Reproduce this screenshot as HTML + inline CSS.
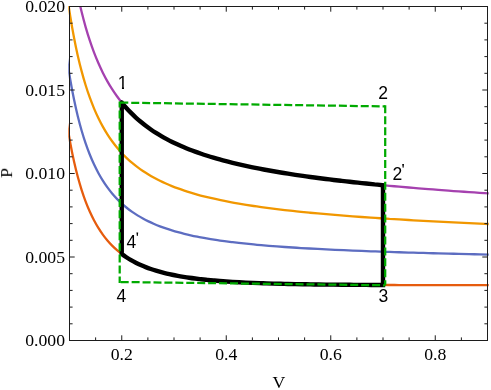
<!DOCTYPE html>
<html><head><meta charset="utf-8"><title>P-V diagram</title>
<style>html,body{margin:0;padding:0;background:#fff}svg{display:block}text{font-kerning:none}</style></head>
<body>
<svg width="491" height="390" viewBox="0 0 491 390">
<defs><clipPath id="c"><rect x="68.30" y="6.00" width="420.40" height="335.00"/></clipPath></defs>
<defs><clipPath id="c1"><path d="M110 70h20v16.9h-20zM121.95 86h2.05v4h-2.05z"/></clipPath></defs>
<rect width="491" height="390" fill="#fff"/>
<g clip-path="url(#c)" fill="none" stroke-width="2.30">
<path d="M66.89 -71.16C68.06 -62.07 69.23 -53.77 70.40 -46.10C71.61 -38.17 72.82 -30.91 74.03 -24.19C75.28 -17.24 76.53 -10.86 77.78 -4.94C79.08 1.17 80.37 6.80 81.66 12.04C82.99 17.44 84.32 22.42 85.65 27.07C87.02 31.86 88.39 36.29 89.76 40.44C91.17 44.70 92.58 48.66 93.99 52.37C95.45 56.18 96.90 59.72 98.35 63.05C99.84 66.47 101.33 69.66 102.82 72.65C104.35 75.73 105.88 78.60 107.41 81.31C108.98 84.09 110.55 86.69 112.13 89.14C113.74 91.66 115.35 94.02 116.96 96.25C118.61 98.53 120.26 100.68 121.91 102.72C123.60 104.80 125.29 106.76 126.98 108.62C128.71 110.52 130.45 112.32 132.18 114.03C133.95 115.77 135.72 117.42 137.49 118.99C139.30 120.59 141.11 122.11 142.92 123.55C144.77 125.03 146.62 126.43 148.48 127.76C150.37 129.13 152.26 130.42 154.15 131.66C156.08 132.92 158.01 134.13 159.94 135.27C161.91 136.45 163.88 137.56 165.86 138.63C167.87 139.72 169.88 140.77 171.89 141.76C173.94 142.78 175.99 143.75 178.04 144.69C180.13 145.64 182.22 146.55 184.32 147.42C186.45 148.31 188.58 149.17 190.71 149.99C192.88 150.82 195.05 151.62 197.22 152.40C199.43 153.18 201.65 153.94 203.86 154.67C206.11 155.41 208.36 156.12 210.61 156.81C212.90 157.51 215.19 158.18 217.48 158.83C219.81 159.50 222.15 160.14 224.48 160.75C226.85 161.38 229.22 161.99 231.59 162.57C234.00 163.17 236.41 163.75 238.83 164.30C241.28 164.87 243.73 165.42 246.18 165.95C248.67 166.49 251.16 167.01 253.65 167.52C256.18 168.04 258.72 168.54 261.25 169.02C263.82 169.51 266.39 169.99 268.96 170.46C271.57 170.93 274.18 171.39 276.79 171.83C279.45 172.29 282.10 172.73 284.75 173.15C287.44 173.59 290.13 174.01 292.82 174.42C295.55 174.84 298.29 175.24 301.02 175.64C303.79 176.04 306.56 176.43 309.33 176.82C312.14 177.20 314.95 177.58 317.77 177.95C320.62 178.32 323.47 178.69 326.32 179.04C329.21 179.41 332.10 179.76 334.99 180.10C337.93 180.45 340.86 180.79 343.79 181.13C346.76 181.46 349.73 181.80 352.70 182.12C355.72 182.45 358.73 182.77 361.74 183.08C364.79 183.40 367.84 183.71 370.89 184.02C373.98 184.32 377.08 184.63 380.17 184.92C383.30 185.22 386.43 185.52 389.56 185.81C392.73 186.10 395.91 186.38 399.08 186.67C402.29 186.95 405.50 187.23 408.71 187.50C411.96 187.78 415.22 188.05 418.47 188.32C421.76 188.59 425.05 188.85 428.34 189.11C431.67 189.38 435.01 189.64 438.34 189.89C441.71 190.15 445.08 190.40 448.45 190.65C451.86 190.90 455.28 191.15 458.69 191.40C462.14 191.64 465.59 191.88 469.04 192.12C472.53 192.36 476.03 192.60 479.52 192.83C483.05 193.07 486.58 193.30 490.11 193.53" stroke="#a541af"/>
<path d="M66.89 -6.44C68.06 2.15 69.23 9.96 70.40 17.16C71.61 24.61 72.82 31.41 74.03 37.70C75.28 44.19 76.53 50.13 77.78 55.64C79.08 61.32 80.37 66.53 81.66 71.38C82.99 76.37 84.32 80.96 85.65 85.23C87.02 89.63 88.39 93.69 89.76 97.48C91.17 101.37 92.58 104.97 93.99 108.34C95.45 111.80 96.90 115.00 98.35 118.00C99.84 121.08 101.33 123.95 102.82 126.63C104.35 129.38 105.88 131.95 107.41 134.35C108.98 136.82 110.55 139.13 112.13 141.29C113.74 143.51 115.35 145.59 116.96 147.54C118.61 149.55 120.26 151.42 121.91 153.19C123.60 155.00 125.29 156.70 126.98 158.30C128.71 159.95 130.45 161.49 132.18 162.95C133.95 164.44 135.72 165.85 137.49 167.18C139.30 168.54 141.11 169.82 142.92 171.04C144.77 172.28 146.62 173.46 148.48 174.57C150.37 175.71 152.26 176.79 154.15 177.81C156.08 178.86 158.01 179.85 159.94 180.79C161.91 181.76 163.88 182.67 165.86 183.54C167.87 184.43 169.88 185.27 171.89 186.08C173.94 186.90 175.99 187.68 178.04 188.43C180.13 189.19 182.22 189.91 184.32 190.61C186.45 191.32 188.58 191.99 190.71 192.64C192.88 193.29 195.05 193.92 197.22 194.53C199.43 195.14 201.65 195.73 203.86 196.29C206.11 196.87 208.36 197.42 210.61 197.94C212.90 198.48 215.19 199.00 217.48 199.49C219.81 200.00 222.15 200.48 224.48 200.95C226.85 201.42 229.22 201.88 231.59 202.32C234.00 202.77 236.41 203.20 238.83 203.61C241.28 204.03 243.73 204.44 246.18 204.83C248.67 205.23 251.16 205.62 253.65 205.99C256.18 206.37 258.72 206.73 261.25 207.09C263.82 207.45 266.39 207.79 268.96 208.13C271.57 208.47 274.18 208.80 276.79 209.12C279.45 209.45 282.10 209.76 284.75 210.07C287.44 210.38 290.13 210.68 292.82 210.97C295.55 211.27 298.29 211.56 301.02 211.84C303.79 212.12 306.56 212.40 309.33 212.67C312.14 212.94 314.95 213.20 317.77 213.46C320.62 213.72 323.47 213.98 326.32 214.22C329.21 214.48 332.10 214.72 334.99 214.96C337.93 215.20 340.86 215.44 343.79 215.67C346.76 215.90 349.73 216.13 352.70 216.35C355.72 216.58 358.73 216.80 361.74 217.01C364.79 217.23 367.84 217.44 370.89 217.65C373.98 217.86 377.08 218.07 380.17 218.27C383.30 218.47 386.43 218.67 389.56 218.87C392.73 219.07 395.91 219.26 399.08 219.45C402.29 219.64 405.50 219.83 408.71 220.02C411.96 220.21 415.22 220.39 418.47 220.57C421.76 220.75 425.05 220.93 428.34 221.10C431.67 221.28 435.01 221.46 438.34 221.63C441.71 221.80 445.08 221.97 448.45 222.14C451.86 222.31 455.28 222.47 458.69 222.63C462.14 222.80 465.59 222.96 469.04 223.12C472.53 223.28 476.03 223.44 479.52 223.60C483.05 223.75 486.58 223.91 490.11 224.06" stroke="#f19700"/>
<path d="M66.89 58.28C68.06 66.36 69.23 73.69 70.40 80.43C71.61 87.40 72.82 93.74 74.03 99.58C75.28 105.62 76.53 111.13 77.78 116.22C79.08 121.47 80.37 126.27 81.66 130.72C82.99 135.30 84.32 139.50 85.65 143.39C87.02 147.41 88.39 151.09 89.76 154.52C91.17 158.04 92.58 161.29 93.99 164.31C95.45 167.42 96.90 170.28 98.35 172.95C99.84 175.70 101.33 178.24 102.82 180.61C104.35 183.04 105.88 185.29 107.41 187.40C108.98 189.56 110.55 191.57 112.13 193.45C113.74 195.37 115.35 197.16 116.96 198.84C118.61 200.56 120.26 202.16 121.91 203.66C123.60 205.20 125.29 206.64 126.98 207.99C128.71 209.37 130.45 210.66 132.18 211.87C133.95 213.11 135.72 214.28 137.49 215.37C139.30 216.49 141.11 217.54 142.92 218.53C144.77 219.54 146.62 220.48 148.48 221.38C150.37 222.29 152.26 223.15 154.15 223.96C156.08 224.79 158.01 225.57 159.94 226.31C161.91 227.07 163.88 227.78 165.86 228.45C167.87 229.13 169.88 229.78 171.89 230.39C173.94 231.02 175.99 231.61 178.04 232.17C180.13 232.74 182.22 233.28 184.32 233.80C186.45 234.32 188.58 234.82 190.71 235.29C192.88 235.77 195.05 236.22 197.22 236.66C199.43 237.10 201.65 237.52 203.86 237.92C206.11 238.32 208.36 238.71 210.61 239.08C212.90 239.45 215.19 239.81 217.48 240.15C219.81 240.50 222.15 240.83 224.48 241.14C226.85 241.46 229.22 241.77 231.59 242.06C234.00 242.36 236.41 242.65 238.83 242.92C241.28 243.20 243.73 243.46 246.18 243.72C248.67 243.97 251.16 244.22 253.65 244.46C256.18 244.70 258.72 244.93 261.25 245.15C263.82 245.38 266.39 245.59 268.96 245.80C271.57 246.01 274.18 246.22 276.79 246.41C279.45 246.61 282.10 246.80 284.75 246.99C287.44 247.17 290.13 247.35 292.82 247.52C295.55 247.70 298.29 247.87 301.02 248.03C303.79 248.20 306.56 248.36 309.33 248.52C312.14 248.67 314.95 248.83 317.77 248.97C320.62 249.12 323.47 249.27 326.32 249.41C329.21 249.55 332.10 249.68 334.99 249.82C337.93 249.95 340.86 250.08 343.79 250.21C346.76 250.34 349.73 250.46 352.70 250.58C355.72 250.71 358.73 250.83 361.74 250.94C364.79 251.06 367.84 251.18 370.89 251.29C373.98 251.40 377.08 251.51 380.17 251.62C383.30 251.72 386.43 251.83 389.56 251.93C392.73 252.04 395.91 252.14 399.08 252.24C402.29 252.34 405.50 252.44 408.71 252.53C411.96 252.63 415.22 252.73 418.47 252.82C421.76 252.91 425.05 253.00 428.34 253.09C431.67 253.19 435.01 253.27 438.34 253.36C441.71 253.45 445.08 253.54 448.45 253.62C451.86 253.71 455.28 253.79 458.69 253.87C462.14 253.96 465.59 254.04 469.04 254.12C472.53 254.20 476.03 254.28 479.52 254.36C483.05 254.44 486.58 254.52 490.11 254.59" stroke="#5d6dc1"/>
<path d="M66.89 123.00C68.06 130.57 69.23 137.42 70.40 143.69C71.61 150.18 72.82 156.06 74.03 161.47C75.28 167.05 76.53 172.13 77.78 176.80C79.08 181.62 80.37 186.01 81.66 190.06C82.99 194.23 84.32 198.04 85.65 201.56C87.02 205.18 88.39 208.49 89.76 211.56C91.17 214.71 92.58 217.61 93.99 220.28C95.45 223.04 96.90 225.56 98.35 227.91C99.84 230.32 101.33 232.53 102.82 234.59C104.35 236.70 105.88 238.64 107.41 240.45C108.98 242.30 110.55 244.01 112.13 245.60C113.74 247.23 115.35 248.73 116.96 250.14C118.61 251.57 120.26 252.90 121.91 254.14C123.60 255.40 125.29 256.58 126.98 257.67C128.71 258.79 130.45 259.83 132.18 260.80C133.95 261.79 135.72 262.70 137.49 263.56C139.30 264.44 141.11 265.25 142.92 266.01C144.77 266.79 146.62 267.51 148.48 268.19C150.37 268.88 152.26 269.52 154.15 270.12C156.08 270.73 158.01 271.30 159.94 271.83C161.91 272.37 163.88 272.88 165.86 273.35C167.87 273.84 169.88 274.29 171.89 274.71C173.94 275.14 175.99 275.54 178.04 275.91C180.13 276.29 182.22 276.65 184.32 276.98C186.45 277.32 188.58 277.64 190.71 277.94C192.88 278.24 195.05 278.52 197.22 278.79C199.43 279.05 201.65 279.31 203.86 279.54C206.11 279.78 208.36 280.00 210.61 280.21C212.90 280.42 215.19 280.62 217.48 280.81C219.81 281.00 222.15 281.17 224.48 281.34C226.85 281.51 229.22 281.66 231.59 281.81C234.00 281.96 236.41 282.10 238.83 282.23C241.28 282.36 243.73 282.48 246.18 282.60C248.67 282.72 251.16 282.82 253.65 282.93C256.18 283.03 258.72 283.13 261.25 283.22C263.82 283.31 266.39 283.39 268.96 283.47C271.57 283.56 274.18 283.63 276.79 283.70C279.45 283.77 282.10 283.84 284.75 283.90C287.44 283.96 290.13 284.02 292.82 284.08C295.55 284.13 298.29 284.18 301.02 284.23C303.79 284.28 306.56 284.32 309.33 284.37C312.14 284.41 314.95 284.45 317.77 284.48C320.62 284.52 323.47 284.55 326.32 284.59C329.21 284.62 332.10 284.65 334.99 284.67C337.93 284.70 340.86 284.73 343.79 284.75C346.76 284.78 349.73 284.80 352.70 284.82C355.72 284.84 358.73 284.86 361.74 284.87C364.79 284.89 367.84 284.91 370.89 284.92C373.98 284.94 377.08 284.95 380.17 284.96C383.30 284.98 386.43 284.99 389.56 285.00C392.73 285.01 395.91 285.02 399.08 285.03C402.29 285.03 405.50 285.04 408.71 285.05C411.96 285.06 415.22 285.06 418.47 285.07C421.76 285.07 425.05 285.08 428.34 285.08C431.67 285.09 435.01 285.09 438.34 285.10C441.71 285.10 445.08 285.10 448.45 285.11C451.86 285.11 455.28 285.11 458.69 285.11C462.14 285.11 465.59 285.12 469.04 285.12C472.53 285.12 476.03 285.12 479.52 285.12C483.05 285.12 486.58 285.12 490.11 285.12" stroke="#e65c0e"/>
</g>
<path d="M121.75 102.52C123.28 104.41 124.82 106.21 126.35 107.92C127.92 109.66 129.48 111.32 131.05 112.90C132.65 114.51 134.25 116.05 135.85 117.51C137.48 119.00 139.11 120.42 140.74 121.78C142.41 123.16 144.07 124.48 145.74 125.74C147.44 127.03 149.14 128.25 150.83 129.43C152.56 130.63 154.30 131.77 156.03 132.87C157.79 133.99 159.56 135.06 161.32 136.09C163.12 137.13 164.92 138.13 166.71 139.10C168.54 140.08 170.37 141.02 172.20 141.92C174.07 142.84 175.93 143.72 177.79 144.57C179.69 145.44 181.59 146.27 183.48 147.07C185.41 147.89 187.34 148.67 189.27 149.43C191.23 150.20 193.20 150.94 195.16 151.65C197.15 152.38 199.15 153.08 201.15 153.76C203.17 154.45 205.20 155.11 207.23 155.76C209.29 156.41 211.35 157.04 213.42 157.65C215.51 158.27 217.60 158.88 219.70 159.46C221.83 160.05 223.95 160.62 226.08 161.17C228.24 161.74 230.40 162.28 232.56 162.81C234.76 163.35 236.95 163.87 239.14 164.38C241.37 164.89 243.60 165.39 245.82 165.87C248.08 166.36 250.34 166.84 252.60 167.31C254.90 167.78 257.19 168.24 259.48 168.68C261.81 169.13 264.13 169.57 266.46 170.00C268.82 170.44 271.18 170.86 273.53 171.27C275.93 171.69 278.32 172.09 280.71 172.49C283.13 172.89 285.56 173.29 287.98 173.67C290.44 174.06 292.90 174.44 295.36 174.81C297.85 175.18 300.34 175.54 302.83 175.90C305.35 176.26 307.88 176.62 310.40 176.96C312.96 177.31 315.51 177.65 318.07 177.99C320.66 178.33 323.25 178.66 325.84 178.98C328.46 179.31 331.09 179.63 333.71 179.95C336.36 180.27 339.02 180.58 341.68 180.88C344.37 181.19 347.05 181.50 349.74 181.79C352.46 182.09 355.19 182.39 357.91 182.68C360.66 182.97 363.42 183.26 366.17 183.54C368.96 183.82 371.75 184.10 374.54 184.38C377.36 184.65 380.18 184.93 383.00 185.19L383.00 284.97C380.18 284.96 377.36 284.95 374.54 284.94C371.75 284.93 368.96 284.91 366.17 284.90C363.42 284.88 360.66 284.87 357.91 284.85C355.19 284.83 352.46 284.82 349.74 284.80C347.05 284.78 344.37 284.76 341.68 284.73C339.02 284.71 336.36 284.69 333.71 284.66C331.09 284.64 328.46 284.61 325.84 284.58C323.25 284.55 320.66 284.52 318.07 284.49C315.51 284.45 312.96 284.42 310.40 284.38C307.88 284.34 305.35 284.30 302.83 284.26C300.34 284.22 297.85 284.18 295.36 284.13C292.90 284.08 290.44 284.03 287.98 283.97C285.56 283.92 283.13 283.86 280.71 283.80C278.32 283.74 275.93 283.68 273.53 283.61C271.18 283.54 268.82 283.47 266.46 283.40C264.13 283.32 261.81 283.24 259.48 283.15C257.19 283.07 254.90 282.98 252.60 282.88C250.34 282.79 248.08 282.69 245.82 282.58C243.60 282.48 241.37 282.36 239.14 282.24C236.95 282.13 234.76 282.00 232.56 281.87C230.40 281.74 228.24 281.60 226.08 281.45C223.95 281.30 221.83 281.15 219.70 280.98C217.60 280.82 215.51 280.65 213.42 280.46C211.35 280.28 209.29 280.09 207.23 279.89C205.20 279.69 203.17 279.47 201.15 279.24C199.15 279.02 197.15 278.78 195.16 278.53C193.20 278.28 191.23 278.02 189.27 277.73C187.34 277.46 185.41 277.16 183.48 276.85C181.59 276.54 179.69 276.22 177.79 275.87C175.93 275.52 174.07 275.16 172.20 274.77C170.37 274.39 168.54 273.99 166.71 273.56C164.92 273.13 163.12 272.68 161.32 272.20C159.56 271.73 157.79 271.23 156.03 270.70C154.30 270.17 152.56 269.62 150.83 269.02C149.14 268.44 147.44 267.82 145.74 267.15C144.07 266.50 142.41 265.81 140.74 265.07C139.11 264.35 137.48 263.57 135.85 262.75C134.25 261.94 132.65 261.08 131.05 260.15C129.48 259.25 127.92 258.29 126.35 257.26C124.82 256.25 123.28 255.17 121.75 254.02L121.75 102.52" fill="none" stroke="#000" stroke-width="4.40" stroke-linejoin="miter" stroke-miterlimit="10" stroke-linecap="round"/>
<g fill="none" stroke="#00aa00" stroke-width="2.25" stroke-dasharray="8 2.93">
<path d="M119.70 102.60L385.20 106.40" stroke-dashoffset="-0.6"/>
<path d="M385.20 105.30L385.20 285.30"/>
<path d="M119.70 282.00L385.20 285.30" stroke-dashoffset="-1"/>
<path d="M119.70 101.50L119.70 283.10" stroke-dasharray="8 3.06" stroke-dashoffset="1.95"/>
</g>
<rect x="69.5" y="6.5" width="418.0" height="334.0" fill="none" stroke="#1c1c1c" stroke-width="1"/>
<path d="M95.62 340.50v-3.10M95.62 6.50v3.10M121.75 340.50v-5.20M121.75 6.50v5.20M147.88 340.50v-3.10M147.88 6.50v3.10M174.00 340.50v-3.10M174.00 6.50v3.10M200.12 340.50v-3.10M200.12 6.50v3.10M226.25 340.50v-5.20M226.25 6.50v5.20M252.38 340.50v-3.10M252.38 6.50v3.10M278.50 340.50v-3.10M278.50 6.50v3.10M304.62 340.50v-3.10M304.62 6.50v3.10M330.75 340.50v-5.20M330.75 6.50v5.20M356.88 340.50v-3.10M356.88 6.50v3.10M383.00 340.50v-3.10M383.00 6.50v3.10M409.12 340.50v-3.10M409.12 6.50v3.10M435.25 340.50v-5.20M435.25 6.50v5.20M461.38 340.50v-3.10M461.38 6.50v3.10M69.50 323.80h3.10M487.50 323.80h-3.10M69.50 307.10h3.10M487.50 307.10h-3.10M69.50 290.40h3.10M487.50 290.40h-3.10M69.50 273.70h3.10M487.50 273.70h-3.10M69.50 257.00h5.20M487.50 257.00h-5.20M69.50 240.30h3.10M487.50 240.30h-3.10M69.50 223.60h3.10M487.50 223.60h-3.10M69.50 206.90h3.10M487.50 206.90h-3.10M69.50 190.20h3.10M487.50 190.20h-3.10M69.50 173.50h5.20M487.50 173.50h-5.20M69.50 156.80h3.10M487.50 156.80h-3.10M69.50 140.10h3.10M487.50 140.10h-3.10M69.50 123.40h3.10M487.50 123.40h-3.10M69.50 106.70h3.10M487.50 106.70h-3.10M69.50 90.00h5.20M487.50 90.00h-5.20M69.50 73.30h3.10M487.50 73.30h-3.10M69.50 56.60h3.10M487.50 56.60h-3.10M69.50 39.90h3.10M487.50 39.90h-3.10M69.50 23.20h3.10M487.50 23.20h-3.10" fill="none" stroke="#1c1c1c" stroke-width="1"/>
<g font-family="'Liberation Serif', serif" font-size="17.7px" fill="#000" style="will-change:transform">
<text x="65.0" y="346.30" text-anchor="end">0.000</text>
<text x="65.0" y="262.80" text-anchor="end">0.005</text>
<text x="65.0" y="179.30" text-anchor="end">0.010</text>
<text x="65.0" y="95.80" text-anchor="end">0.015</text>
<text x="65.0" y="12.30" text-anchor="end">0.020</text>
<text x="121.75" y="360" text-anchor="middle">0.2</text>
<text x="226.25" y="360" text-anchor="middle">0.4</text>
<text x="330.75" y="360" text-anchor="middle">0.6</text>
<text x="435.25" y="360" text-anchor="middle">0.8</text>
<text x="278.9" y="388.1" text-anchor="middle">V</text>
<text transform="translate(12.1 172.8) rotate(-90)" text-anchor="middle">P</text>
</g>
<g font-family="'Liberation Sans', sans-serif" font-size="17.5px" fill="#000" style="will-change:transform">
<text x="117.8" y="89.0" clip-path="url(#c1)">1</text>
<text x="378.2" y="99.1">2</text>
<text x="392.6" y="180.2">2</text>
<text x="378.4" y="302">3</text>
<text x="116.5" y="301.9">4</text>
<text x="126.4" y="248.2">4</text>
</g>
<path d="M136.40 232.40h1.8l-0.5 3.7h-0.8z" fill="#000"/>
<path d="M402.20 164.00h1.8l-0.5 3.7h-0.8z" fill="#000"/>
</svg>
</body></html>
